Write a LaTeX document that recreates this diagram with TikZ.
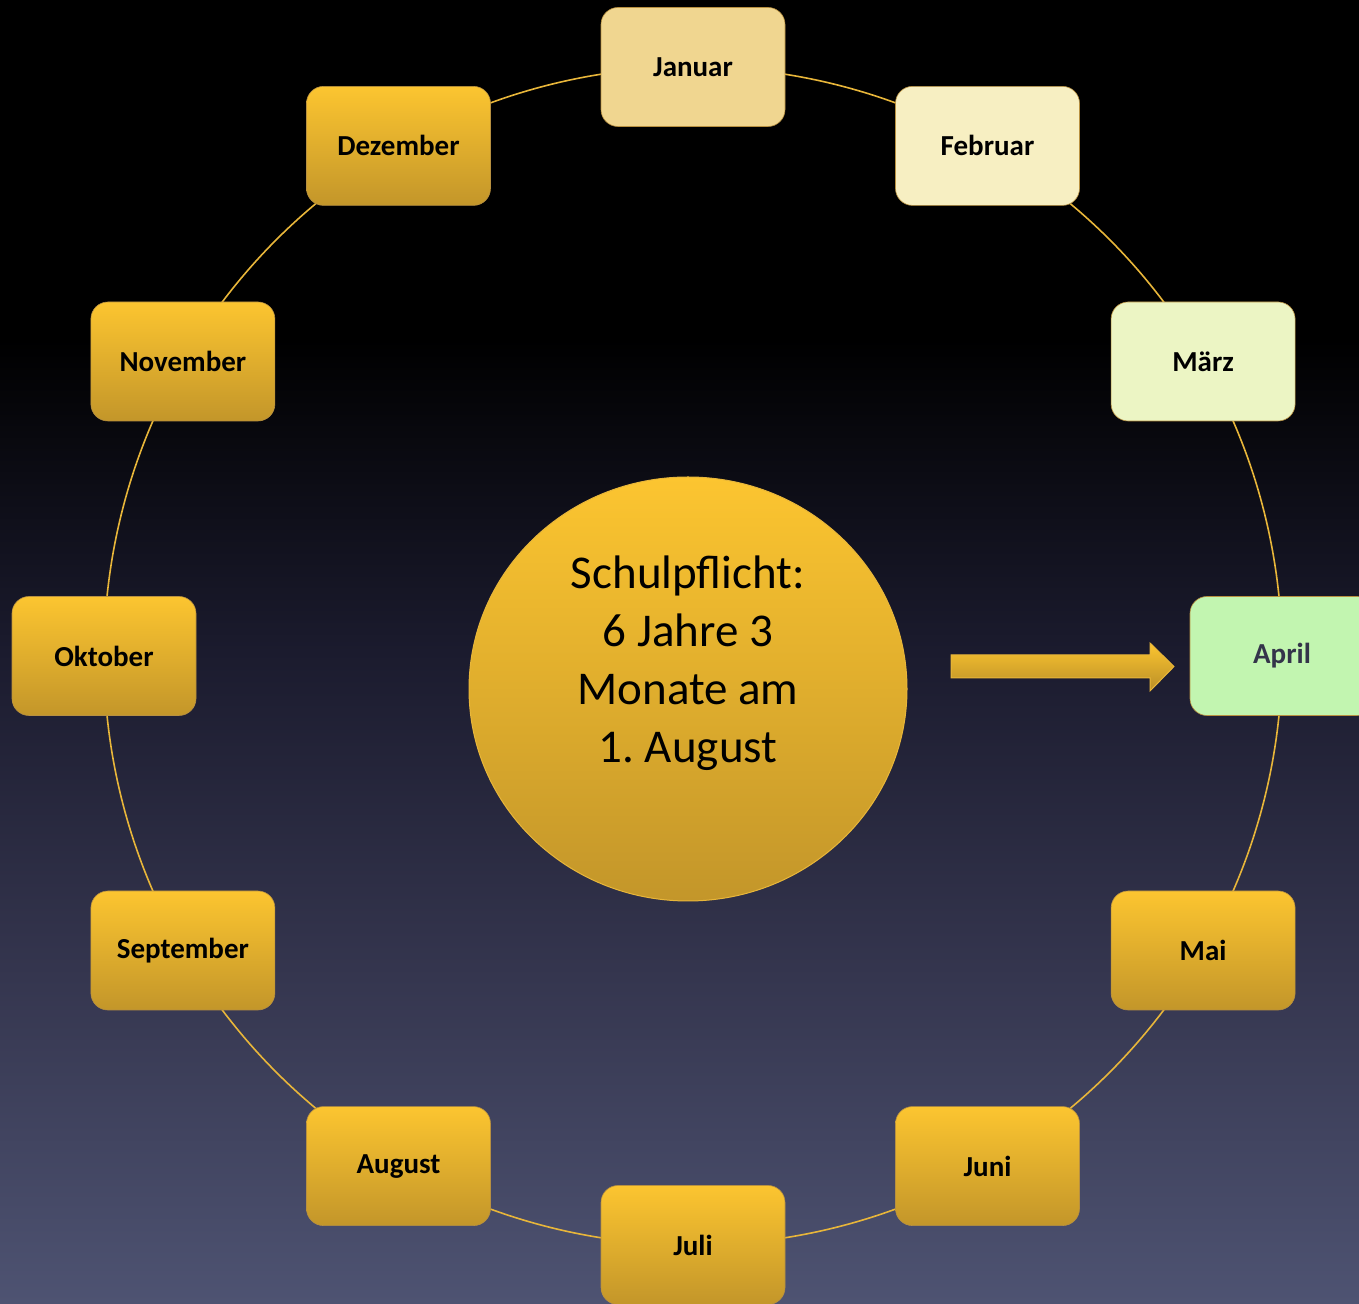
\documentclass[tikz,border=0pt]{standalone}
\usepackage{fontspec}
\setmainfont{Carlito}
\usetikzlibrary{calc,shapes.geometric}
\definecolor{bgbot}{HTML}{4E5372}
\definecolor{bgq}{HTML}{35364F}
\definecolor{bgmid}{HTML}{1B1B2E}
\definecolor{goldtop}{HTML}{FCC530}
\definecolor{goldbot}{HTML}{C3962A}
\definecolor{ringcol}{HTML}{E8B63A}
\definecolor{janfill}{HTML}{F0D690}
\definecolor{febfill}{HTML}{F7EFC2}
\definecolor{marfill}{HTML}{ECF5C4}
\definecolor{aprfill}{HTML}{C2F5B0}
\definecolor{aprtext}{HTML}{34344A}
\definecolor{boxline}{HTML}{B89040}
\pgfdeclareverticalshading{bgshade}{100bp}{color(0bp)=(bgbot); color(25bp)=(bgbot); color(37.5bp)=(bgq); color(50bp)=(bgmid); color(62bp)=(black); color(100bp)=(black)}
\tikzset{
  month/.style={rounded corners=17pt, minimum width=184pt, minimum height=119pt,
    inner sep=0pt, draw=boxline, line width=0.6pt,
    font=\bfseries\fontsize{29}{35}\selectfont, text=black},
  goldbox/.style={month, top color=goldtop, bottom color=goldbot},
  ring/.style={draw=ringcol, line width=1.6pt},
}
\begin{document}
\frenchspacing
\begin{tikzpicture}[x=1pt,y=1pt]
\useasboundingbox (0,0) rectangle (1359,1303);
\clip (0,0) rectangle (1359,1303);
\shade[shading=bgshade] (0,0) rectangle (1359,1303);
\coordinate (O) at (693,647);
% ring connectors
\foreach \i in {0,...,11}{
  \pgfmathsetmacro{\sa}{90-30*\i}
  \pgfmathsetmacro{\ea}{60-30*\i}
  \draw[ring] ([shift={(\sa:589pt)}]O) arc[start angle=\sa, end angle=\ea, radius=589pt];
}
% month boxes
\node[month, fill=janfill] (jan) at ([shift={(90:589pt)}]O) {Januar};
\node[month, fill=febfill] (feb) at ([shift={(60:589pt)}]O) {Februar};
\node[month, fill=marfill] (mar) at ([shift={(30:589pt)}]O) {März};
\node[month, fill=aprfill, text=aprtext] (apr) at ([shift={(0:589pt)}]O) {April};
\node[goldbox] (mai) at ([shift={(-30:589pt)}]O) {Mai};
\node[goldbox] (jun) at ([shift={(-60:589pt)}]O) {Juni};
\node[goldbox] (jul) at ([shift={(-90:589pt)}]O) {Juli};
\node[goldbox] (aug) at ([shift={(-120:589pt)}]O) {August};
\node[goldbox] (sep) at ([shift={(-150:589pt)}]O) {September};
\node[goldbox] (okt) at ([shift={(180:589pt)}]O) {Oktober};
\node[goldbox] (nov) at ([shift={(150:589pt)}]O) {November};
\node[goldbox] (dez) at ([shift={(120:589pt)}]O) {Dezember};
% centre
\node[ellipse, minimum width=438pt, minimum height=424pt, inner sep=0pt,
  top color=goldtop, bottom color=goldbot, draw=ringcol, line width=1pt] (ctr) at (688,614) {};
\node[align=center, font=\fontsize{47}{58}\selectfont, text=black] (ctrtext) at (688,640)
  {Schulpflicht:\\6 Jahre 3\\Monate am\\1. August};
% block arrow
\shade[top color=goldtop, bottom color=goldbot!95!black, draw=ringcol, line width=1pt]
  (951,648) -- (1150,648) -- (1150,660) -- (1174,636.5) -- (1150,612) -- (1150,625) -- (951,625) -- cycle;
\end{tikzpicture}
\end{document}
